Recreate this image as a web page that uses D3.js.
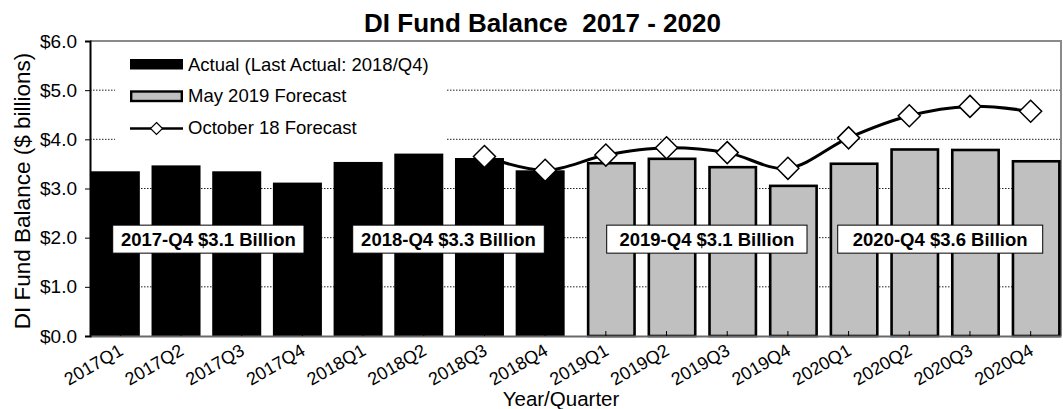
<!DOCTYPE html>
<html><head><meta charset="utf-8">
<script src="https://cdn.jsdelivr.net/npm/d3@7"></script>
<style>
body{margin:0;background:#fff}
svg{display:block}
text{font-family:"Liberation Sans",Arial,sans-serif;fill:#000;white-space:pre}
</style>
</head><body><svg id="c" width="1063" height="409"></svg>
<script>
// ---- data ----
const categories = ["2017Q1","2017Q2","2017Q3","2017Q4","2018Q1","2018Q2","2018Q3","2018Q4",
                    "2019Q1","2019Q2","2019Q3","2019Q4","2020Q1","2020Q2","2020Q3","2020Q4"];
const actual   = [3.35,3.47,3.35,3.12,3.54,3.71,3.62,3.37,null,null,null,null,null,null,null,null];
const may2019  = [null,null,null,null,null,null,null,null,3.54,3.63,3.46,3.08,3.53,3.82,3.81,3.58];
const oct18    = [null,null,null,null,null,null,3.65,3.37,3.68,3.83,3.73,3.41,4.03,4.48,4.67,4.57];
const yTicks   = [0,1,2,3,4,5,6];
const seriesNames = ["Actual (Last Actual: 2018/Q4)","May 2019 Forecast","October 18 Forecast"];
const annotationTexts = ["2017-Q4 $3.1 Billion","2018-Q4 $3.3 Billion","2019-Q4 $3.1 Billion","2020-Q4 $3.6 Billion"];
const annotationValue = 1.97;
const titleText = "DI Fund Balance  2017 - 2020";
const xTitle = "Year/Quarter";
const yTitle = "DI Fund Balance ($ billions)";

// ---- layout ----
const L = 90, R = 1061, T = 41, B = 336;
const svg = d3.select("#c");
const x = d3.scaleBand().domain(categories).range([L, R]);
const y = d3.scaleLinear().domain([0, 6]).range([B, T]);
const barW = 49, actOff = -5, fcOff = 5.5;
const annBoxes = [[112.7,191.3],[352.7,191.6],[606.7,200.3],[837.7,205]];

// gridlines
svg.append("g").selectAll("line").data(yTicks.filter(d => d > 0 && d < 6)).join("line")
  .attr("x1", L).attr("x2", R).attr("y1", d => y(d)).attr("y2", d => y(d))
  .attr("stroke", "#222").attr("stroke-width", 1).attr("stroke-dasharray", "1.5,1.5");

// legend background
svg.append("rect").attr("x", 115).attr("y", 47).attr("width", 332).attr("height", 100).attr("fill", "#fff");

// plot border top/right
svg.append("path").attr("d", `M${L},${T}H${R}V${B}`).attr("fill", "none")
  .attr("stroke", "#8a8a8a").attr("stroke-width", 2);

// actual bars
svg.append("g").selectAll("rect").data(categories.map((c, i) => ({c, v: actual[i]})).filter(d => d.v != null)).join("rect")
  .attr("x", d => x(d.c) + x.bandwidth()/2 + actOff - barW/2)
  .attr("width", barW)
  .attr("y", d => y(d.v)).attr("height", d => y(0) - y(d.v))
  .attr("fill", "#000");

// forecast bars
const sw = 2.6;
svg.append("g").selectAll("rect").data(categories.map((c, i) => ({c, v: may2019[i]})).filter(d => d.v != null)).join("rect")
  .attr("x", d => x(d.c) + x.bandwidth()/2 + fcOff - barW/2 + sw/2)
  .attr("width", barW - sw)
  .attr("y", d => y(d.v) + sw/2).attr("height", d => y(0) - y(d.v) - sw/2)
  .attr("fill", "#c0c0c0").attr("stroke", "#000").attr("stroke-width", sw);

// x axis
const xAxis = svg.append("g").attr("transform", `translate(0,${B})`)
  .call(d3.axisBottom(x).tickSizeInner(-5).tickSizeOuter(0));
xAxis.select(".domain").attr("stroke", "#6a6a6a").attr("stroke-width", 2);
xAxis.selectAll(".tick line").attr("stroke", "#000");
xAxis.selectAll(".tick text")
  .attr("x", 0).attr("y", 0).attr("dy", 0)
  .attr("text-anchor", "end")
  .attr("transform", "translate(4,18) rotate(-30)")
  .style("font-size", "18px").style("font-family", '"Liberation Sans",Arial,sans-serif');

// y axis
const yAxis = svg.append("g").attr("transform", `translate(${L},0)`)
  .call(d3.axisLeft(y).tickValues(yTicks).tickFormat(d => "$" + d3.format(".1f")(d)).tickSize(5).tickPadding(8));
yAxis.select(".domain").attr("stroke", "#000").attr("stroke-width", 2);
yAxis.selectAll(".tick line").attr("stroke", "#000");
yAxis.selectAll(".tick text").style("font-size", "19px").style("font-family", '"Liberation Sans",Arial,sans-serif');

// October 18 line
const lineData = categories.map((c, i) => ({c, v: oct18[i]})).filter(d => d.v != null);
svg.append("path").datum(lineData)
  .attr("d", d3.line().x(d => x(d.c) + x.bandwidth()/2).y(d => y(d.v)).curve(d3.curveCardinal.tension(0)))
  .attr("fill", "none").attr("stroke", "#000").attr("stroke-width", 3);
const dm = 11;
svg.append("g").selectAll("path").data(lineData).join("path")
  .attr("d", d => { const cx = x(d.c) + x.bandwidth()/2, cy = y(d.v);
    return `M${cx},${cy-dm}L${cx+dm},${cy}L${cx},${cy+dm}L${cx-dm},${cy}Z`; })
  .attr("fill", "#fff").attr("stroke", "#000").attr("stroke-width", 1.5);

// annotations
const ann = svg.append("g").selectAll("g").data(annotationTexts).join("g");
ann.append("rect")
  .attr("x", (d, i) => annBoxes[i][0]).attr("width", (d, i) => annBoxes[i][1])
  .attr("y", y(annotationValue) - 14).attr("height", 28)
  .attr("fill", "#fff").attr("stroke", "#000").attr("stroke-width", 1);
ann.append("text")
  .attr("x", (d, i) => annBoxes[i][0] + annBoxes[i][1]/2)
  .attr("y", y(annotationValue) + 6.5)
  .attr("text-anchor", "middle").attr("font-weight", "bold").attr("font-size", "18.5px")
  .text(d => d);

// legend
const lg = svg.append("g");
lg.append("rect").attr("x", 130).attr("y", 59).attr("width", 53).attr("height", 10.5).attr("fill", "#000");
lg.append("rect").attr("x", 131.2).attr("y", 91.5).attr("width", 50.6).attr("height", 9.5)
  .attr("fill", "#c0c0c0").attr("stroke", "#000").attr("stroke-width", 2.4);
lg.append("line").attr("x1", 130).attr("x2", 183).attr("y1", 128.5).attr("y2", 128.5).attr("stroke", "#000").attr("stroke-width", 2.5);
lg.append("path").attr("d", "M156.5,122.5L162.5,128.5L156.5,134.5L150.5,128.5Z").attr("fill", "#fff").attr("stroke", "#000").attr("stroke-width", 1.2);
lg.selectAll("text").data(seriesNames).join("text")
  .attr("x", 188).attr("y", (d, i) => 70.7 + i * 31.7)
  .attr("font-size", "18.5px").text(d => d);

// titles
svg.append("text").attr("x", 542.5).attr("y", 32).attr("text-anchor", "middle")
  .attr("font-weight", "bold").attr("font-size", "26px").text(titleText);
svg.append("text").attr("x", 561).attr("y", 406).attr("text-anchor", "middle")
  .attr("font-size", "20.5px").text(xTitle);
svg.append("text").attr("transform", "translate(30,191) rotate(-90)").attr("text-anchor", "middle")
  .attr("font-size", "22.5px").text(yTitle);
</script>
</body></html>
